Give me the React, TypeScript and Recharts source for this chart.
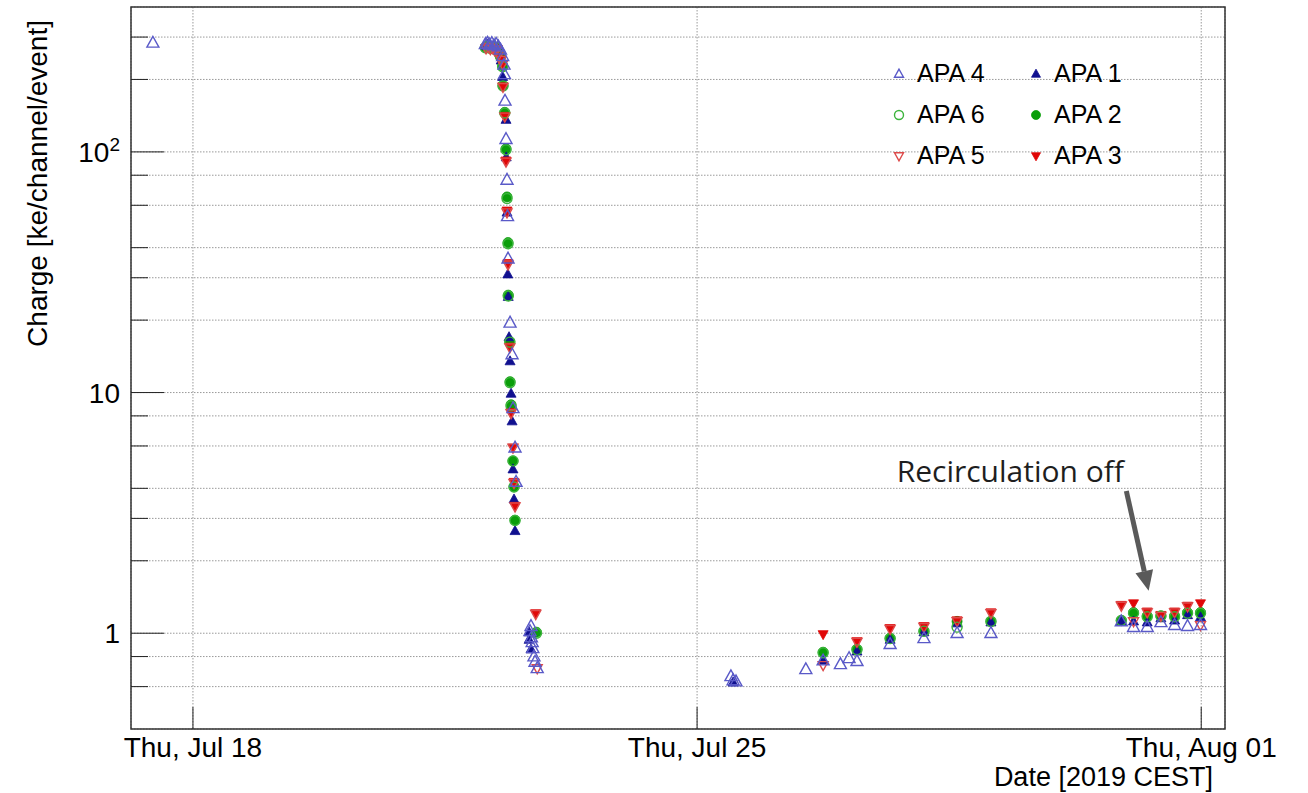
import React from "react";
import {
  ScatterChart,
  Scatter,
  XAxis,
  YAxis,
  CartesianGrid,
  ReferenceArea,
  ReferenceLine,
} from "recharts";

// time in days since Thu, Jul 18 2019 00:00 CEST, charge in ke/channel/event
const apa4: [number, number][] = [
  [-0.556, 284],
  [4.06, 280], [4.09, 284], [4.12, 279], [4.15, 283], [4.18, 277], [4.21, 281], [4.24, 274], [4.27, 266],
  [4.3, 250], [4.319, 230], [4.325, 210], [4.333, 163], [4.347, 113], [4.361, 76.5], [4.368, 54],
  [4.375, 36], [4.403, 19.5], [4.431, 14.4], [4.444, 8.6], [4.472, 5.9], [4.486, 4.25],
  [4.68, 1.02], [4.694, 1.07], [4.7, 0.96], [4.71, 0.917], [4.72, 0.866], [4.735, 0.8], [4.75, 0.76], [4.78, 0.715],
  [7.47, 0.662], [7.5, 0.637], [7.54, 0.63], [8.51, 0.708], [8.75, 0.77], [8.99, 0.743], [9.11, 0.787],
  [9.22, 0.765], [9.68, 0.9], [10.15, 0.953], [10.61, 1.0], [11.08, 1.0],
  [12.89, 1.12], [13.06, 1.06], [13.25, 1.06], [13.44, 1.11], [13.63, 1.08], [13.81, 1.07], [13.99, 1.08],
];

const apa1: [number, number][] = [
  [4.07, 276], [4.1, 281], [4.13, 277], [4.16, 272], [4.19, 278], [4.22, 270], [4.25, 262], [4.28, 240],
  [4.3, 205], [4.347, 136], [4.35, 95], [4.361, 56], [4.372, 31], [4.378, 25], [4.389, 17], [4.403, 13.5],
  [4.417, 9.9], [4.431, 7.6], [4.444, 4.8], [4.458, 3.6], [4.472, 2.66],
  [4.667, 1.01], [4.667, 0.94], [4.694, 0.858],
  [7.5, 0.625], [8.75, 0.77], [9.22, 0.84], [9.68, 0.94], [10.15, 1.01], [10.61, 1.1], [11.08, 1.11],
  [12.89, 1.12], [13.06, 1.12], [13.25, 1.11], [13.44, 1.155], [13.63, 1.13], [13.81, 1.19], [13.99, 1.166],
];

const apa6: [number, number][] = [
  [4.06, 271], [4.09, 275], [4.12, 270], [4.15, 273], [4.18, 268], [4.21, 271], [4.24, 261], [4.27, 249],
  [4.3, 226], [4.305, 188], [4.33, 145], [4.347, 102], [4.361, 64], [4.375, 41.5], [4.378, 25.2],
  [4.4, 16.2], [4.403, 11.0], [4.417, 8.8], [4.444, 5.2], [4.458, 4.05], [4.472, 2.94],
  [4.77, 1.0],
  [8.75, 0.83], [9.22, 0.855], [9.68, 0.95], [10.15, 1.02], [10.61, 1.06], [11.08, 1.12],
  [12.89, 1.13], [13.06, 1.21], [13.25, 1.17], [13.44, 1.18], [13.63, 1.17], [13.81, 1.21], [13.99, 1.21],
];

const apa2: [number, number][] = [
  [4.06, 272], [4.09, 276], [4.12, 270], [4.15, 274], [4.18, 268], [4.21, 272], [4.24, 262], [4.27, 250],
  [4.3, 228], [4.305, 189], [4.33, 146], [4.347, 103], [4.361, 65], [4.375, 42], [4.378, 25.4],
  [4.4, 16.3], [4.403, 11.1], [4.417, 8.9], [4.444, 5.2], [4.458, 4.06], [4.472, 2.95],
  [4.77, 1.01],
  [8.75, 0.834], [9.22, 0.858], [9.68, 0.953], [10.15, 1.02], [10.61, 1.12], [11.08, 1.12],
  [12.89, 1.13], [13.06, 1.22], [13.25, 1.18], [13.44, 1.18], [13.63, 1.18], [13.81, 1.22], [13.99, 1.22],
];

const apa5: [number, number][] = [
  [4.07, 269], [4.1, 273], [4.13, 267], [4.16, 270], [4.19, 264], [4.22, 267], [4.25, 254], [4.28, 241],
  [4.3, 231], [4.305, 186], [4.33, 140], [4.347, 91], [4.361, 56], [4.375, 34], [4.4, 15.4],
  [4.417, 8.2], [4.444, 5.9], [4.458, 4.2], [4.472, 3.36],
  [4.76, 1.2], [4.78, 0.715],
  [8.75, 0.736], [9.22, 0.92], [9.68, 1.04], [10.15, 1.06], [10.61, 1.12], [11.08, 1.21],
  [12.89, 1.3], [13.06, 1.12], [13.25, 1.22], [13.44, 1.18], [13.63, 1.22], [13.81, 1.29], [13.99, 1.08],
];

const apa3: [number, number][] = [
  [4.07, 270], [4.1, 274], [4.13, 268], [4.16, 271], [4.19, 265], [4.22, 268], [4.25, 255], [4.28, 242],
  [4.3, 232], [4.305, 187], [4.33, 141], [4.347, 92], [4.361, 57], [4.375, 34.5], [4.4, 15.5],
  [4.417, 8.3], [4.444, 5.9], [4.458, 4.25], [4.472, 3.38],
  [4.76, 1.21],
  [8.75, 0.99], [9.22, 0.926], [9.68, 1.05], [10.15, 1.07], [10.61, 1.13], [11.08, 1.22],
  [12.89, 1.31], [13.06, 1.33], [13.25, 1.23], [13.44, 1.19], [13.63, 1.23], [13.81, 1.3], [13.99, 1.33],
];

const xTicks = [0, 7, 14];
const xTickLabels = ["Thu, Jul 18", "Thu, Jul 25", "Thu, Aug 01"];
const yTicks = [
  0.5, 0.6, 0.7, 0.8, 0.9, 1, 2, 3, 4, 5, 6, 7, 8, 9,
  10, 20, 30, 40, 50, 60, 70, 80, 90, 100, 200, 300,
];
const yMajor = [1, 10, 100];

// arrow pointing at the moment recirculation was switched off
const noteText = "Recirculation off";
const noteFrom = { t: 12.96, v: 3.9 };
const noteTo = { t: 13.27, v: 1.5 };

const xDomain = [-0.86, 14.33];
const yDomain = [0.4, 400];

const FONT = "'Liberation Sans', Arial, Helvetica, sans-serif";

type Kind = "triUp" | "triDown" | "circle";

interface SeriesDef {
  name: string;
  data: [number, number][];
  color: string;
  kind: Kind;
  filled: boolean;
}

const series: SeriesDef[] = [
  { name: "APA 2", data: apa2, color: "#0a9e0a", kind: "circle", filled: true },
  { name: "APA 1", data: apa1, color: "#10108f", kind: "triUp", filled: true },
  { name: "APA 3", data: apa3, color: "#e00808", kind: "triDown", filled: true },
  { name: "APA 6", data: apa6, color: "#3cb43c", kind: "circle", filled: false },
  { name: "APA 5", data: apa5, color: "#dd4a4a", kind: "triDown", filled: false },
  { name: "APA 4", data: apa4, color: "#5a5ac8", kind: "triUp", filled: false },
];

// legend is laid out in two columns, row by row
const legendOrder = ["APA 4", "APA 1", "APA 6", "APA 2", "APA 5", "APA 3"];

function MarkerGlyph({ cx, cy, s, kind, filled, color }: {
  cx: number; cy: number; s: number; kind: Kind; filled: boolean; color: string;
}) {
  const fill = filled ? color : "none";
  const sw = filled ? 0.8 : 1.4;
  if (kind === "circle") {
    return <circle cx={cx} cy={cy} r={s / 2} fill={fill} stroke={color} strokeWidth={sw} />;
  }
  const h = s * 0.9;
  const pts =
    kind === "triUp"
      ? `${cx},${cy - h * 0.6} ${cx - s / 2},${cy + h * 0.4} ${cx + s / 2},${cy + h * 0.4}`
      : `${cx},${cy + h * 0.6} ${cx - s / 2},${cy - h * 0.4} ${cx + s / 2},${cy - h * 0.4}`;
  return <polygon points={pts} fill={fill} stroke={color} strokeWidth={sw} strokeLinejoin="miter" />;
}

const YTick = (props: any) => {
  const { x, y, payload } = props;
  const v = payload.value;
  const major = yMajor.includes(v);
  const ax = x + 10;
  return (
    <g>
      <line x1={ax} x2={ax + (major ? 33 : 17)} y1={y} y2={y} stroke="#222" strokeWidth={1} />
      {major && (
        <text x={x - 1} y={y} dy={10} textAnchor="end" fontFamily={FONT} fontSize={28} fill="#000">
          {v === 100 ? (
            <>
              <tspan>10</tspan>
              <tspan dy={-11} fontSize={19}>2</tspan>
            </>
          ) : (
            String(v)
          )}
        </text>
      )}
    </g>
  );
};

const XTick = (props: any) => {
  const { x, y, payload } = props;
  const i = xTicks.indexOf(payload.value);
  const ay = y - 8;
  return (
    <g>
      <line x1={x} x2={x} y1={ay} y2={ay - 22} stroke="#222" strokeWidth={1} />
      <text x={x} y={y + 20} textAnchor="middle" fontFamily={FONT} fontSize={28} fill="#000">
        {xTickLabels[i]}
      </text>
    </g>
  );
};

const NoteArrow = (props: any) => {
  const { x1, y1, x2, y2 } = props;
  const dx = x2 - x1;
  const dy = y2 - y1;
  const len = Math.sqrt(dx * dx + dy * dy);
  const ux = dx / len;
  const uy = dy / len;
  const headLen = 20;
  const headW = 9;
  const bx = x2 - ux * headLen;
  const by = y2 - uy * headLen;
  const head = `${x2},${y2} ${bx - uy * headW},${by + ux * headW} ${bx + uy * headW},${by - ux * headW}`;
  return (
    <g>
      <line x1={x1} y1={y1} x2={bx} y2={by} stroke="#5a5a5a" strokeWidth={5} />
      <polygon points={head} fill="#5a5a5a" />
      <text
        x={x1 - 116}
        y={y1 - 9}
        textAnchor="middle"
        fontFamily="'Open Sans', sans-serif"
        fontSize={30}
        fill="#1e1e1e"
      >
        {noteText}
      </text>
    </g>
  );
};

function Legend() {
  const rows = [];
  for (let r = 0; r < 3; r++) {
    rows.push(legendOrder.slice(r * 2, r * 2 + 2));
  }
  return (
    <div style={{ position: "absolute", left: 888, top: 53, fontFamily: FONT, fontSize: 25 }}>
      {rows.map((row, r) => (
        <div key={r} style={{ display: "flex", height: 41, alignItems: "center" }}>
          {row.map((name) => {
            const s = series.find((d) => d.name === name)!;
            return (
              <div key={name} style={{ display: "flex", alignItems: "center", width: 137 }}>
                <svg width={22} height={22}>
                  <MarkerGlyph cx={11} cy={11} s={9} kind={s.kind} filled={s.filled} color={s.color} />
                </svg>
                <span style={{ marginLeft: 7, color: "#000" }}>{name}</span>
              </div>
            );
          })}
        </div>
      ))}
    </div>
  );
}

export default function App() {
  return (
    <div style={{ position: "absolute", left: 0, top: 0, width: 1308, height: 793, background: "#fff" }}>
      <ScatterChart width={1308} height={793} margin={{ top: 7, right: 83, bottom: 0, left: 0 }}>
        <CartesianGrid stroke="#9a9a9a" strokeDasharray="1.5 1.5" />
        <XAxis
          type="number"
          dataKey="t"
          domain={xDomain}
          ticks={xTicks}
          allowDataOverflow
          height={64}
          tickSize={0}
          tickMargin={8}
          tick={<XTick />}
          axisLine={false}
          label={{
            content: (p: any) => {
              const vb = p.viewBox;
              return (
                <text
                  x={vb.x + vb.width - 12}
                  y={vb.y + vb.height - 7}
                  textAnchor="end"
                  fontFamily={FONT}
                  fontSize={27}
                  fill="#000"
                >
                  Date [2019 CEST]
                </text>
              );
            },
          }}
        />
        <YAxis
          type="number"
          dataKey="v"
          scale="log"
          domain={yDomain}
          ticks={yTicks}
          allowDataOverflow
          width={131}
          tickSize={0}
          tickMargin={10}
          tick={<YTick />}
          axisLine={false}
          label={{
            content: (p: any) => {
              const vb = p.viewBox;
              const tx = vb.x + 47;
              const ty = vb.y + 13;
              return (
                <text
                  x={tx}
                  y={ty}
                  textAnchor="end"
                  transform={`rotate(-90, ${tx}, ${ty})`}
                  fontFamily={FONT}
                  fontSize={28}
                  fill="#000"
                >
                  Charge [ke/channel/event]
                </text>
              );
            },
          }}
        />
        {series.map((s) => (
          <Scatter
            key={s.name}
            name={s.name}
            data={s.data.map(([t, v]) => ({ t, v }))}
            isAnimationActive={false}
            shape={(p: any) => (
              <MarkerGlyph
                cx={p.cx}
                cy={p.cy}
                s={s.kind === "triUp" && !s.filled ? 12 : 10}
                kind={s.kind}
                filled={s.filled}
                color={s.color}
              />
            )}
          />
        ))}
        <ReferenceLine
          segment={[
            { x: noteFrom.t, y: noteFrom.v },
            { x: noteTo.t, y: noteTo.v },
          ]}
          shape={NoteArrow}
        />
        <ReferenceArea
          x1={xDomain[0]}
          x2={xDomain[1]}
          y1={yDomain[0]}
          y2={yDomain[1]}
          fill="none"
          fillOpacity={0}
          stroke="#333"
          strokeWidth={1.5}
          ifOverflow="visible"
        />
      </ScatterChart>
      <Legend />
    </div>
  );
}
